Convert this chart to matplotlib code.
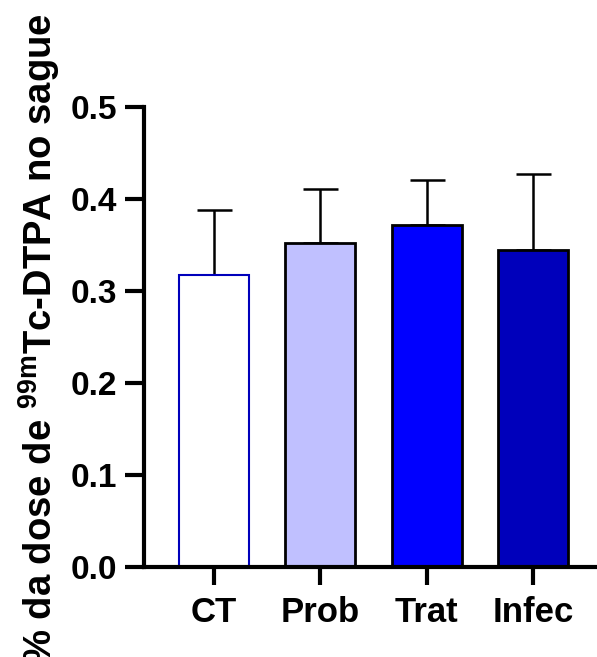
import matplotlib
matplotlib.use("Agg")
import matplotlib.pyplot as plt

plt.rcParams['font.family'] = ['Liberation Sans', 'DejaVu Sans']
plt.rcParams['font.weight'] = 'bold'
plt.rcParams['mathtext.fontset'] = 'custom'
plt.rcParams['mathtext.bf'] = 'Liberation Sans:bold'
plt.rcParams['mathtext.rm'] = 'Liberation Sans:bold'
plt.rcParams['mathtext.default'] = 'bf'

# data
groups = ["CT", "Prob", "Trat", "Infec"]
means = [0.317, 0.352, 0.372, 0.345]
sd_up = [0.071, 0.059, 0.049, 0.082]
fills = ["white", "#c0c0ff", "#0000ff", "#0000bb"]
edges = ["#0000bb", "black", "black", "black"]

fig = plt.figure(figsize=(5.97, 6.57), dpi=100)
ax = fig.add_axes([0.241, 0.137, 0.759, 0.700])

x = list(range(len(groups)))
ax.bar(x, means, width=0.656, color=fills, edgecolor=edges,
       linewidth=[1.5, 2, 2, 2], zorder=2)
ax.errorbar(x, means, yerr=[[0] * len(groups), sd_up], fmt='none',
            ecolor='black', elinewidth=1.8, capsize=12.6, capthick=1.8,
            zorder=1)

ax.set_ylim(0, 0.5)
ax.set_xlim(-0.656, 3.6)
ax.set_yticks([0.0, 0.1, 0.2, 0.3, 0.4, 0.5])
ax.set_yticklabels(["0.0", "0.1", "0.2", "0.3", "0.4", "0.5"])
ax.set_xticks(x)
ax.set_xticklabels(groups)

for s in ['top', 'right']:
    ax.spines[s].set_visible(False)
for s in ['left', 'bottom']:
    ax.spines[s].set_linewidth(3)
ax.tick_params(axis='y', width=3, length=14, labelsize=24, pad=5)
ax.tick_params(axis='x', width=3, length=13, labelsize=25, pad=8)

fig.text(0.065, 0.484, "% da dose de $^{99m}$Tc-DTPA no sague",
         rotation=90, ha='center', va='center', fontsize=27.5,
         fontweight='bold')

fig.savefig("out.png", dpi=100)
